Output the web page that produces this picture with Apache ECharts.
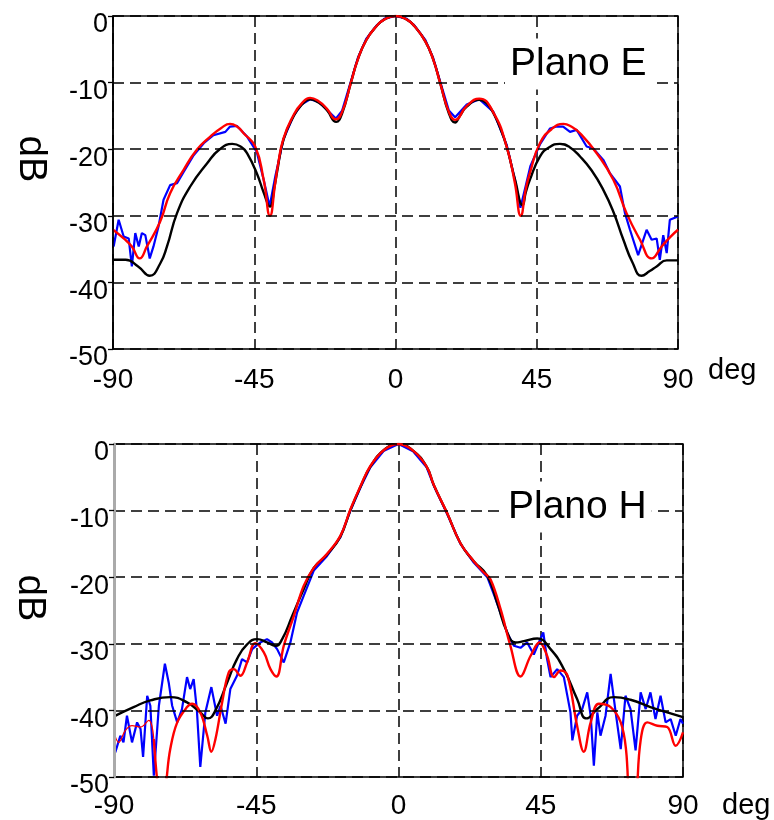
<!DOCTYPE html>
<html>
<head>
<meta charset="utf-8">
<script src="https://cdn.jsdelivr.net/npm/echarts@6/dist/echarts.min.js"></script>
<style>
html, body { margin: 0; padding: 0; background: #fff; }
#chart { width: 774px; height: 820px; }
</style>
</head>
<body>
<div id="chart"></div>
<script>
// axis values shared by both panels
var X_TICKS = [-90, -45, 0, 45, 90];
var Y_TICKS = [0, -10, -20, -30, -40, -50];

// Plano E, [deg, dB]
var e_teorico = [
    [-90, -36.6], [-86, -36.6], [-82, -37.6], [-78.3, -39], [-75, -37.2], [-72.8, -34.6],
    [-69.6, -29.6], [-65.4, -25.6], [-60, -22.1], [-56, -20], [-52, -19.2], [-49, -19.7],
    [-47.3, -20.6], [-44.2, -23.6], [-42, -26.5], [-40, -28.6], [-38.5, -25.5], [-37.8, -23.6],
    [-35.7, -18.6], [-32.5, -15.1], [-30, -13.4], [-27.2, -12.5], [-24.5, -13], [-21.9, -14.1],
    [-18.9, -15.9], [-17, -14.6], [-14.2, -10], [-12, -6.5], [-9.3, -3.6], [-6, -1.5],
    [-3.5, -0.5], [0, 0],
    [3.5, -0.5], [6, -1.5], [9.5, -3.8], [12, -6.5], [14.2, -10], [17, -14.6], [19, -16],
    [20.5, -15], [22.7, -13.6], [26.7, -12.6], [29, -13.1], [31.2, -14.6], [33.5, -17],
    [35.4, -19.6], [38.1, -24.6], [40.5, -28.4], [41.5, -26.5], [42.8, -24.6], [46, -21.1],
    [49, -19.7], [52.4, -19.2], [55.5, -19.7], [58.8, -21.1], [62.5, -23.2], [66.2, -26.1],
    [69.5, -29.5], [72.6, -33.6], [75.5, -37], [78.4, -39], [81, -38.3], [83.2, -37.6],
    [86.4, -36.7], [90, -36.7]
];
var e_simulado = [
    [-90, -32.1], [-86.6, -33.4], [-84, -34.6], [-81.5, -36.4], [-79.2, -34.6], [-75, -30.9],
    [-71.8, -26.6], [-67.5, -23.1], [-63.3, -20.1], [-59, -18.1], [-55.5, -16.8], [-52.7, -16.2],
    [-50.5, -16.6], [-48.4, -17.6], [-44.7, -19.6], [-42, -24.6], [-40, -30], [-38.3, -25],
    [-37.5, -22.5], [-35.7, -18.4], [-32.5, -14.9], [-30, -13.2], [-27.2, -12.3], [-24.5, -12.8],
    [-21.9, -13.9], [-19, -15.5], [-17, -14.4], [-14.2, -10], [-12, -6.5], [-9.3, -3.6],
    [-6, -1.5], [-3.5, -0.5], [0, 0],
    [3.5, -0.5], [6, -1.5], [9.5, -3.8], [12, -6.5], [14.2, -10], [17, -14.4], [19, -15.6],
    [22.7, -13.5], [26.7, -12.4], [31.2, -14.5], [35.4, -19.6], [38, -25], [39.9, -30],
    [41.5, -26], [42.8, -23.6], [46, -19.1], [49.7, -17], [53.5, -16.2], [56, -16.6],
    [58.8, -17.6], [64.1, -20.6], [69.4, -24.6], [73.6, -29.6], [77.9, -33.6], [81.6, -36.4],
    [84.8, -34.6], [87.5, -33.2], [90, -32.1]
];
var e_medido = [
    [-89.8, -34.6], [-88.2, -30.6], [-86.6, -33.1], [-85, -33.4], [-84, -37.6], [-82.9, -32.6],
    [-81.8, -34.6], [-80.8, -32.6], [-79.7, -32.9], [-78.3, -36.4], [-77.1, -34.6], [-75.5, -31.6],
    [-73.9, -27.6], [-71.8, -25.4], [-69.6, -25.1], [-67.5, -23.4], [-64.3, -20.9], [-61.1, -19.1],
    [-58, -17.9], [-54.2, -17.4], [-52.7, -16.6], [-50.5, -16.5], [-47.3, -18.1], [-44.2, -20.4],
    [-42, -24.6], [-40.1, -28.6], [-38.3, -24.1], [-35.7, -18.5], [-32.5, -15], [-30, -13.3],
    [-27.2, -12.5], [-24.5, -12.9], [-22, -14], [-19, -15.4], [-17, -14.2], [-14.2, -9.8],
    [-12, -6.3], [-9.3, -3.4], [-6, -1.4], [-3.5, -0.4], [0, 0],
    [3.5, -0.4], [6, -1.4], [9.5, -3.6], [12, -6.3], [14.2, -9.8], [17, -14.2], [19, -15.2],
    [22.7, -13.3], [26.7, -12.5], [31.2, -14.4], [35.4, -19.3], [38, -24.5], [39.8, -28.8],
    [41.5, -25.5], [43, -22.5], [46, -19.3], [49.2, -16.9], [51.3, -16.6], [53.4, -16.6],
    [55.6, -17.4], [57.7, -17.1], [60.9, -19.6], [63, -19.9], [66.2, -21.6], [68.3, -23.6],
    [71.5, -25.6], [73.1, -29.6], [74.7, -32.1], [77.3, -35.9], [80, -32.1], [81.6, -33.6],
    [83.2, -33.4], [84.2, -36.6], [85.3, -32.9], [86.4, -35.6], [87.4, -30.6], [90, -30.1]
];

// Plano H, [deg, dB]
var h_teorico = [
    [-90, -40.9], [-83.8, -39.5], [-78.5, -38.5], [-72.2, -38], [-66.9, -38.8], [-62.7, -40.3],
    [-60.3, -41.2], [-57.9, -40], [-54.2, -35.8], [-51.1, -32.3], [-47.9, -30.1], [-44.7, -29.3],
    [-41.6, -29.8], [-38.9, -30.3], [-36.8, -29.3], [-33.6, -25.8], [-30, -21.8], [-26.8, -18.6],
    [-22.6, -16.6], [-18.4, -13.9], [-15.2, -9.9], [-12, -6.4], [-8.9, -3.4], [-4.6, -0.9], [0, 0],
    [4.6, -1], [8.9, -3.4], [11.2, -6.2], [15.4, -10.4], [19.6, -14.9], [23.8, -17.6],
    [28.1, -19.8], [31.2, -23.8], [34.4, -28.3], [37, -29.8], [39.7, -29.6], [43.9, -29.2],
    [48.1, -30.8], [52.3, -33.8], [56.5, -38.3], [59.5, -41.2], [62.9, -39.8], [68.1, -38],
    [73.4, -38.4], [79.7, -39.5], [85, -40.3], [90, -41]
];
var h_simulado_borde = [
    [-90, -43.3], [-88.5, -44.8], [-86.4, -43], [-84.3, -42.3], [-81.6, -42.5], [-79, -41.5],
    [-77.4, -44.3]
];
var h_simulado = [
    [-77.4, -44.3], [-76, -52], [-74.5, -56], [-73.3, -50], [-72.2, -45.8], [-70, -41.8],
    [-66.9, -39.5], [-65.3, -39], [-62.7, -40.3], [-60.5, -43.8], [-59.2, -46.2], [-57.9, -44.3],
    [-55.8, -38.8], [-53.7, -34.3], [-52.1, -33.8], [-50, -34.8], [-47.9, -32.8], [-45.3, -29.9],
    [-42.6, -31.3], [-40.5, -33.8], [-38.6, -34.9], [-36.3, -30.3], [-33.1, -25.8], [-30, -21.3],
    [-26.8, -18.6], [-22.6, -16.5], [-18.4, -13.8], [-15.2, -9.8], [-12, -6.3], [-8.9, -3.3],
    [-4.6, -0.9], [0, 0],
    [4.6, -1], [8.9, -3.4], [11.2, -6.2], [15.4, -10.4], [19.6, -14.9], [23.8, -17.6],
    [27, -19.3], [29.1, -20.3], [32.3, -24.8], [35.4, -30.3], [38.6, -34.9], [41.8, -31.8],
    [44.6, -29.8], [47, -31.8], [49.2, -35], [51.3, -34], [53.4, -34.7], [56.5, -42.3],
    [58.6, -46.2], [60.8, -41.8], [63.4, -39], [67.1, -39.5], [70.3, -41.8], [72, -46],
    [73.5, -56], [75, -54], [76.6, -44.5], [78.7, -41.8], [81.9, -42.3], [85, -42.5],
    [87.7, -45.3], [90, -43.3]
];
var h_medido = [
    [-89.6, -46.3], [-88, -43.8], [-87, -44.8], [-85.9, -40.8], [-84.3, -44.8], [-82.7, -41.8],
    [-81.6, -42.8], [-80.8, -47], [-79.5, -37.8], [-78.5, -39.3], [-77.4, -49.8], [-75.8, -39.3],
    [-73.9, -33], [-72.7, -35.8], [-71.6, -39.3], [-70, -41.8], [-68.5, -39.8], [-66.9, -35],
    [-65.9, -36.8], [-64.8, -35.3], [-63.8, -39.8], [-62.7, -48.5], [-61.1, -40.3], [-59.2, -36.5],
    [-57.4, -40.8], [-56.3, -39.3], [-54.7, -42], [-53.2, -36.8], [-51.1, -34.8], [-49.5, -32.3],
    [-47.9, -32.8], [-46.3, -30.8], [-43.7, -29.8], [-41.6, -29.3], [-40, -29.8], [-38.4, -30.8],
    [-36.3, -32.8], [-34.2, -29.8], [-32.1, -25.3], [-30, -22.8], [-26.8, -19], [-22.6, -16.8],
    [-18.4, -14], [-15.2, -10], [-12, -6.5], [-8.9, -3.5], [-4.6, -1], [0, 0],
    [4.6, -1.1], [8.9, -3.5], [11.2, -6.3], [15.4, -10.5], [19.6, -15], [23.8, -17.8],
    [28.1, -20], [30.5, -23], [33.3, -26.8], [34.5, -28.5], [36.5, -30.3], [38.6, -30.6],
    [40.7, -29.8], [42.8, -31.6], [44.4, -29.8], [45.8, -28.3], [47, -32.3], [48.1, -35],
    [50.2, -33.8], [52.3, -35], [54.4, -40.3], [55, -44.5], [56.5, -40.8], [58.1, -39.8],
    [59.7, -37.3], [60.8, -40.8], [61.8, -48.3], [62.9, -40.3], [63.9, -43.8], [65.5, -40.8],
    [67.1, -34.5], [68.7, -40.3], [70.3, -45.8], [71.8, -37.8], [73.4, -39.8], [75, -46],
    [76.6, -37.3], [78.2, -39.8], [79.7, -37.3], [81.3, -41.3], [82.9, -37.8], [84.5, -41.8],
    [86.1, -41.3], [87.7, -43.8], [89.2, -41.3], [90, -42]
];

var FONT = 'Liberation Sans, Arial, sans-serif';
var DASH = [11, 6];

function x_axis(index, margin)
{
    return {
        type: 'value', gridIndex: index, min: -90, max: 90, interval: 45,
        axisLine: {show: false, onZero: false},
        axisTick: {show: false},
        splitLine: {show: true, lineStyle: {color: '#000', width: 1.5, type: DASH}},
        axisLabel: {
            fontFamily: FONT, fontSize: 28, color: '#000', margin: margin,
            formatter: function(v) { return X_TICKS.indexOf(v) >= 0 ? String(v) : ''; }
        }
    };
}

function y_axis(index, line_color, line_width)
{
    return {
        type: 'value', gridIndex: index, min: -50, max: 0, interval: 10, z: 5,
        axisLine: {show: true, onZero: false, lineStyle: {color: line_color, width: line_width}},
        axisTick: {show: true, length: 5, lineStyle: {color: '#000', width: 1.3}},
        splitLine: {show: true, lineStyle: {color: '#000', width: 1.5, type: DASH}},
        axisLabel: {
            fontFamily: FONT, fontSize: 27, color: '#000', margin: 5,
            verticalAlign: 'top', lineHeight: 18,
            formatter: function(v) { return Y_TICKS.indexOf(v) >= 0 ? String(v) : ''; }
        }
    };
}

function line_series(index, data, color, width, smooth, z)
{
    return {
        type: 'line', xAxisIndex: index, yAxisIndex: index,
        data: data, showSymbol: false, symbol: 'none',
        smooth: smooth,
        lineStyle: {color: color, width: width},
        clip: true, z: z, animation: false
    };
}

function text_item(x, y, str, size, extra)
{
    var style = {text: str, x: 0, y: 0, fill: '#000', font: size + 'px ' + FONT,
                 verticalAlign: 'middle'};
    for (var k in extra) style[k] = extra[k];
    return {type: 'text', x: x, y: y, style: style, z: 100};
}

var chart = echarts.init(document.getElementById('chart'), null, {renderer: 'canvas'});
var option = {
    backgroundColor: '#fff',
    animation: false,
    grid: [
        {left: 113, top: 16, width: 565, height: 333, show: true,
         borderColor: '#000', borderWidth: 1.5, backgroundColor: 'transparent'},
        {left: 114, top: 444, width: 569, height: 334, show: true,
         borderColor: '#000', borderWidth: 1.5, backgroundColor: 'transparent'}
    ],
    xAxis: [x_axis(0, 17), x_axis(1, 15)],
    yAxis: [y_axis(0, '#000', 1.5), y_axis(1, '#aaa', 3)],
    series: [
        line_series(0, e_medido, '#0000ff', 2.2, false, 2),
        line_series(0, e_teorico, '#000', 2.4, 0.5, 3),
        line_series(0, e_simulado, '#ff0000', 2.4, 0.5, 4),
        line_series(1, h_medido, '#0000ff', 2.2, false, 2),
        line_series(1, h_teorico, '#000', 2.4, 0.5, 3),
        line_series(1, h_simulado_borde, '#ff0000', 1.2, 0.4, 4),
        line_series(1, h_simulado, '#ff0000', 2.4, 0.4, 4)
    ],
    graphic: [
        text_item(30, 159, 'dB', 38, {align: 'center'}),
        text_item(29, 598, 'dB', 38, {align: 'center'}),
        text_item(708, 371, 'deg', 29, {align: 'left'}),
        text_item(722, 806, 'deg', 29, {align: 'left'}),
        text_item(505, 64, 'Plano E', 39, {align: 'left', backgroundColor: '#fff', padding: [6, 5, 6, 5]}),
        text_item(503, 507, 'Plano H', 39, {align: 'left', backgroundColor: '#fff', padding: [6, 5, 6, 5]})
    ]
};
// dB labels read top to bottom
option.graphic[0].rotation = -Math.PI / 2;
option.graphic[1].rotation = -Math.PI / 2;
chart.setOption(option);
</script>
</body>
</html>
